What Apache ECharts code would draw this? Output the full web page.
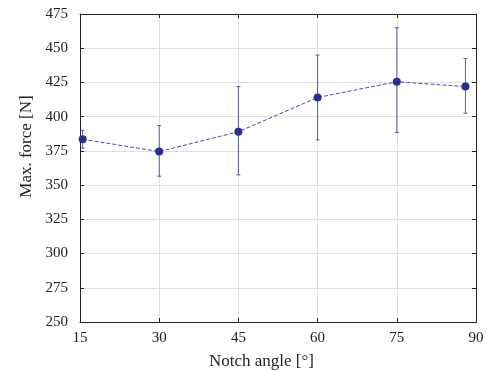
<!DOCTYPE html>
<html>
<head>
<meta charset="utf-8">
<script src="https://cdn.jsdelivr.net/npm/echarts@6/dist/echarts.min.js"></script>
<style>
  html, body { margin: 0; padding: 0; background: #fff; }
  #chart { width: 487px; height: 371px; }
</style>
</head>
<body>
<div id="chart"></div>
<script>
// notch angle [deg] and max. force [N] with error bar limits
const angles = [15.5, 30, 45, 60, 75, 88];
const meanForce = [383.5, 374.5, 389, 414, 425.5, 422];
const errLow = [377, 356.5, 357.5, 383, 388.5, 402.5];
const errHigh = [390, 393.5, 422, 445, 465, 442.5];
const xTicks = [15, 30, 45, 60, 75, 90];
const yTicks = [250, 275, 300, 325, 350, 375, 400, 425, 450, 475];

const blue = "#2b2e8f";
const ink = "#222";
const font = "'Liberation Serif', 'DejaVu Serif', serif";

const chart = echarts.init(document.getElementById("chart"), null, { renderer: "canvas" });

const axisCommon = {
  type: "value",
  axisLine: { show: true, lineStyle: { color: ink, width: 1 } },
  axisTick: { show: true, inside: true, length: 4, lineStyle: { color: ink } },
  splitLine: { show: false },
  axisLabel: { show: false },
};

chart.setOption({
  animation: false,
  grid: { left: 80, right: 11, top: 14, bottom: 49, outerBoundsMode: "none", containLabel: false },
  xAxis: [
    {
      ...axisCommon,
      min: xTicks[0],
      max: xTicks[xTicks.length - 1],
      interval: 15,
      splitLine: { show: true, lineStyle: { color: "#dedede", width: 1 } },
      axisLabel: { show: true, color: ink, fontFamily: font, fontSize: 15, margin: 9 },
      name: "Notch angle [°]",
      nameLocation: "middle",
      nameGap: 31,
      nameTextStyle: { color: ink, fontFamily: font, fontSize: 17, padding: [0, 33, 0, 0] },
    },
    { ...axisCommon, position: "top", min: 15, max: 90, interval: 15 },
  ],
  yAxis: [
    {
      ...axisCommon,
      min: yTicks[0],
      max: yTicks[yTicks.length - 1],
      interval: 25,
      splitLine: { show: true, lineStyle: { color: "#dedede", width: 1 } },
      axisLabel: { show: true, color: ink, fontFamily: font, fontSize: 15, margin: 12 },
      name: "Max. force [N]",
      nameLocation: "middle",
      nameGap: 44,
      nameTextStyle: { color: ink, fontFamily: font, fontSize: 17, padding: [0, 0, 0, 43] },
    },
    { ...axisCommon, position: "right", min: 250, max: 475, interval: 25 },
  ],
  series: [
    {
      type: "custom",
      data: angles.map((a, i) => [a, errLow[i], errHigh[i]]),
      renderItem: (params, api) => {
        const lo = api.coord([api.value(0), api.value(1)]);
        const hi = api.coord([api.value(0), api.value(2)]);
        const cap = 2;
        const style = { stroke: blue, lineWidth: 1, opacity: 0.75 };
        return {
          type: "group",
          children: [
            { type: "line", shape: { x1: lo[0], y1: lo[1], x2: hi[0], y2: hi[1] }, style },
            { type: "line", shape: { x1: lo[0] - cap, y1: lo[1], x2: lo[0] + cap, y2: lo[1] }, style },
            { type: "line", shape: { x1: hi[0] - cap, y1: hi[1], x2: hi[0] + cap, y2: hi[1] }, style },
          ],
        };
      },
      z: 1,
    },
    {
      type: "line",
      data: angles.map((a, i) => [a, meanForce[i]]),
      symbol: "circle",
      symbolSize: 8,
      lineStyle: { color: blue, width: 1, type: [4, 2], opacity: 0.85 },
      itemStyle: { color: blue },
      z: 2,
    },
  ],
});
</script>
</body>
</html>
